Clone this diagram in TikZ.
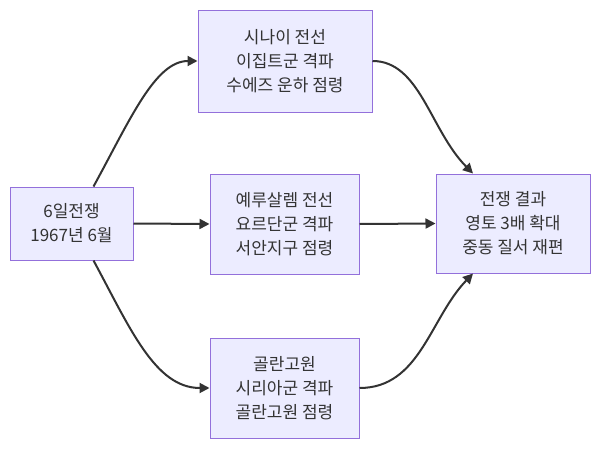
\documentclass[tikz,border=0pt]{standalone}
\usepackage{fontspec}
\newfontfamily\kr{Noto Sans CJK KR}
\usetikzlibrary{arrows.meta}
\definecolor{nfill}{HTML}{ECECFF}
\definecolor{nbord}{HTML}{9370DB}
\definecolor{ln}{HTML}{333333}
\begin{document}
\begin{tikzpicture}[x=1pt,y=-1pt,
  box/.style={draw=nbord,fill=nfill,line width=1pt,align=center,font=\kr\fontsize{17}{24}\selectfont,text=ln,inner sep=0pt},
  conn/.style={draw=ln,line width=2pt,-{Triangle[length=10pt,width=10pt]}}]
\useasboundingbox (0,0) rectangle (600,450);
\node[box,minimum width=123,minimum height=73] (L) at (71.5,223.5) {6일전쟁\\1967년 6월};
\node[box,minimum width=174,minimum height=102] (T) at (285,61) {시나이 전선\\이집트군 격파\\수에즈 운하 점령};
\node[box,minimum width=149,minimum height=100] (M) at (284.5,224) {예루살렘 전선\\요르단군 격파\\서안지구 점령};
\node[box,minimum width=149,minimum height=100] (B) at (284.5,388) {골란고원\\시리아군 격파\\골란고원 점령};
\node[box,minimum width=154,minimum height=99] (R) at (513,223.5) {전쟁 결과\\영토 3배 확대\\중동 질서 재편};
\draw[conn] ([xshift=-40]L.north east) .. controls (130,120) and (155,61) .. (T.west);
\draw[conn] (L.east) -- (M.west);
\draw[conn] ([xshift=-40]L.south east) .. controls (130,328) and (155,388) .. (B.west);
\draw[conn] (T.east) .. controls (420,61) and (430,130) .. ([xshift=-40]R.north);
\draw[conn] (M.east) -- (R.west);
\draw[conn] (B.east) .. controls (420,388) and (430,318) .. ([xshift=-40]R.south);
\end{tikzpicture}
\end{document}
